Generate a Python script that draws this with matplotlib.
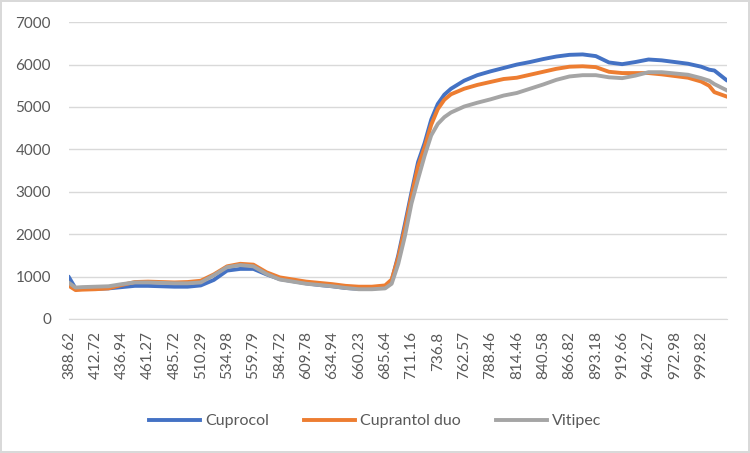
import numpy as np
import matplotlib
matplotlib.use("Agg")
import matplotlib.pyplot as plt

plt.rcParams['font.family'] = ['Lato', 'DejaVu Sans']

# category labels shown on the x axis (wavelength, nm)
tick_wl = [388.62, 412.72, 436.94, 461.27, 485.72, 510.29, 534.98, 559.79,
           584.72, 609.78, 634.94, 660.23, 685.64, 711.16, 736.8, 762.57,
           788.46, 814.46, 840.58, 866.82, 893.18, 919.66, 946.27, 972.98,
           999.82]

wl = [388.62, 394.6, 400.67, 412.72, 424.83, 436.94, 449.1, 461.27, 473.5,
      485.72, 498.0, 510.29, 522.6, 534.98, 547.4, 559.79, 572.2, 584.72,
      597.2, 609.78, 622.4, 634.94, 647.6, 660.23, 672.9, 685.64, 692.0,
      698.4, 704.8, 711.16, 717.6, 724.0, 730.4, 736.8, 743.2, 749.7,
      762.57, 775.5, 788.46, 801.5, 814.46, 827.5, 840.58, 853.7, 866.82,
      880.0, 893.18, 906.4, 919.66, 933.0, 946.27, 959.6, 972.98, 986.4,
      999.82, 1008.0, 1013.3, 1025.4]

cuprocol = [980, 720, 710, 710, 720, 750, 780, 780, 770, 760, 760, 790, 920,
            1140, 1180, 1180, 1050, 940, 890, 840, 800, 770, 730, 710, 710,
            760, 900, 1500, 2230, 2980, 3700, 4150, 4700, 5070, 5290, 5430,
            5620, 5750, 5840, 5920, 6000, 6060, 6130, 6190, 6230, 6240, 6200,
            6050, 6010, 6060, 6120, 6100, 6060, 6020, 5950, 5880, 5860, 5640]
cuprantol = [780, 680, 690, 700, 720, 800, 870, 880, 870, 860, 870, 900, 1050,
             1240, 1300, 1280, 1100, 980, 930, 880, 850, 820, 780, 760, 760,
             790, 930, 1450, 2150, 2900, 3600, 4050, 4580, 4950, 5170, 5300,
             5430, 5520, 5590, 5660, 5690, 5760, 5830, 5900, 5950, 5960, 5940,
             5830, 5800, 5800, 5800, 5770, 5730, 5690, 5600, 5500, 5350, 5250]
vitipec = [850, 740, 750, 760, 770, 820, 860, 860, 850, 840, 840, 860, 1030,
           1220, 1270, 1240, 1060, 930, 880, 830, 800, 770, 730, 700, 700,
           720, 830, 1300, 1950, 2720, 3300, 3850, 4330, 4600, 4760, 4870,
           5010, 5100, 5180, 5270, 5330, 5430, 5530, 5640, 5720, 5750, 5750,
           5700, 5680, 5740, 5820, 5820, 5790, 5760, 5680, 5620, 5540, 5400]

# category axis: position = index of labelled category
tick_pos = np.arange(len(tick_wl))
ext_wl = tick_wl + [1026.8]
ext_pos = np.arange(len(ext_wl))
x = np.interp(wl, ext_wl, ext_pos)

fig = plt.figure(figsize=(7.5, 4.53), dpi=100)
fig.patch.set_edgecolor('#d9d9d9')
fig.patch.set_linewidth(1.5)
ax = fig.add_axes([0.092, 0.296, 0.877, 0.655])

ax.plot(x, cuprocol, color='#4472C4', lw=2.8, label='Cuprocol')
ax.plot(x, cuprantol, color='#ED7D31', lw=2.8, label='Cuprantol duo')
ax.plot(x, vitipec, color='#A5A5A5', lw=2.8, label='Vitipec')

ax.set_ylim(0, 7000)
ax.set_yticks(range(0, 7001, 1000))
ax.set_xlim(0, 24.97)
ax.set_xticks(tick_pos)
ax.set_xticklabels([f'{v:g}' for v in tick_wl], rotation=90)
ax.grid(axis='y', color='#d9d9d9', lw=1)
ax.set_axisbelow(True)
for s in ['top', 'right', 'left']:
    ax.spines[s].set_visible(False)
ax.spines['bottom'].set_color('#d9d9d9')
ax.tick_params(length=0, colors='#595959', labelsize=11)
ax.tick_params(axis='y', pad=13)
ax.tick_params(axis='x', pad=9)

fig.legend(loc='center', bbox_to_anchor=(0.5, 0.07), ncol=3, frameon=False,
           fontsize=11.5, handlelength=3.2, handletextpad=0.3, columnspacing=2.2,
           labelcolor='#595959')

fig.savefig('out.png', dpi=100)
